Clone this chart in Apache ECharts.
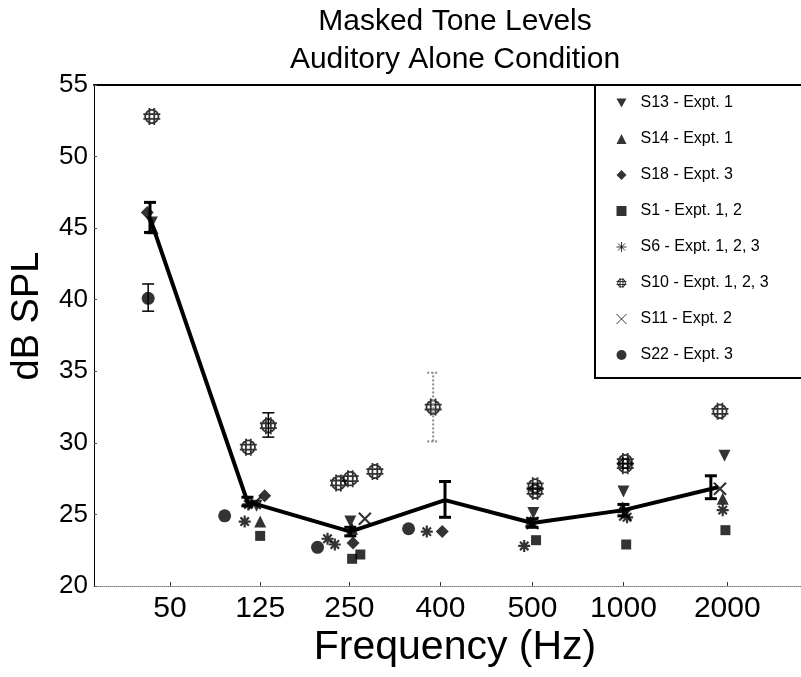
<!DOCTYPE html>
<html><head><meta charset="utf-8">
<script src="https://cdn.jsdelivr.net/npm/echarts@6/dist/echarts.min.js"></script>
<style>html,body{margin:0;padding:0;background:#fff}#c{width:801px;height:677px}</style>
</head><body><div id="c"></div>
<script>
// Frequency axis: tick labels and their positions on the axis scale
const freqLabels = ['50', '125', '250', '400', '500', '1000', '2000'];
const freqTickPos = [1, 1.99, 2.97, 3.97, 4.98, 5.98, 7.12];

// Mean masked tone level (line) and its error bars [x, low, high]
const meanLevel = [[0.78, 45.7], [1.85, 25.9], [2.98, 23.8], [4.02, 26.0], [4.98, 24.4], [5.98, 25.3], [7.02, 26.9]];
const meanErr = [[0.78, 44.7, 46.8], [1.85, 25.6, 26.2], [2.98, 23.5, 24.1], [4.02, 24.8, 27.3], [4.98, 24.1, 24.7], [5.98, 24.9, 25.7], [6.94, 26.1, 27.7]];

// Individual subjects [x, dB SPL]
const s13 = [[0.80, 45.4], [1.95, 25.6], [2.98, 24.5], [4.99, 25.1], [5.98, 26.6], [7.09, 29.1]];
const s14 = [[0.81, 45.0], [1.99, 24.5], [3.00, 24.0], [4.96, 24.5], [5.97, 25.5], [7.07, 26.1]];
const s18 = [[0.75, 46.1], [2.04, 26.3], [3.01, 23.0], [3.99, 23.8]];
const s1 = [[1.99, 23.5], [3.00, 21.9], [3.09, 22.2], [5.02, 23.2], [6.01, 22.9], [7.10, 23.9]];
const s6 = [[1.82, 24.5], [1.86, 25.7], [2.73, 23.3], [2.81, 22.9], [3.82, 23.8], [4.89, 22.8], [6.02, 24.8], [7.07, 25.3]];
const s10 = [[0.80, 52.8], [1.86, 29.7], [2.08, 31.2], [2.85, 27.2], [2.98, 27.5], [3.25, 28.0], [3.89, 32.5], [5.01, 27.0], [5.01, 26.6], [6.00, 28.7], [6.00, 28.4], [7.04, 32.2]];
const s11 = [[1.93, 25.8], [3.14, 24.7], [4.98, 24.4], [6.00, 25.0], [7.04, 26.8]];
const s22 = [[0.76, 40.1], [1.60, 24.9], [2.62, 22.7], [3.62, 24.0]];

// Individual error bars [x, low, high]
const indivErr = [[0.76, 39.2, 41.1], [2.08, 30.4, 32.1]];
const s10WideErr = [[3.89, 30.1, 34.9]];

const yTicks = {min: 20, max: 55, step: 5};

const FONT = 'Liberation Sans, Arial, sans-serif';
const chart = echarts.init(document.getElementById('c'));

const SYM = {
  down: 'path://M0,0 L10,0 L5,9 Z',
  star: 'path://M5,0 L5,10 M0,5 L10,5 M1.5,1.5 L8.5,8.5 M8.5,1.5 L1.5,8.5',
  cross: 'path://M0,5 L14,5 M0,9 L14,9 M5,0 L5,14 M9,0 L9,14 M7,1.5 A5.5,5.5 0 1 1 6.99,1.5',
  x: 'path://M0,0 L10,10 M10,0 L0,10'
};

function scatter(name, data, symbol, size, stroke) {
  return {
    name: name, type: 'scatter', data: data, symbol: symbol, symbolSize: size,
    itemStyle: stroke ? {color: 'rgba(0,0,0,0)', borderColor: '#000', borderWidth: stroke} : {color: '#000'},
    emphasis: {disabled: true}, z: 3
  };
}

function errBars(data, width, color, dashed) {
  return {
    type: 'custom', data: data, z: 4, silent: true,
    renderItem: function (params, api) {
      const x = api.value(0);
      const lo = api.coord([x, api.value(1)]);
      const hi = api.coord([x, api.value(2)]);
      const cap = 6;
      const st = {stroke: color, lineWidth: width, lineDash: dashed ? [2, 2] : null};
      return {type: 'group', children: [
        {type: 'line', shape: {x1: lo[0], y1: lo[1], x2: hi[0], y2: hi[1]}, style: st},
        {type: 'line', shape: {x1: lo[0] - cap, y1: lo[1], x2: lo[0] + cap, y2: lo[1]}, style: st},
        {type: 'line', shape: {x1: hi[0] - cap, y1: hi[1], x2: hi[0] + cap, y2: hi[1]}, style: st}
      ]};
    },
    encode: {x: 0, y: [1, 2]}
  };
}

const xMin = 0.165, xMax = 7.93;
const thin = {borderWidth: 1};

chart.setOption({
  animation: false,
  backgroundColor: '#fff',
  grid: {left: 94, right: 0, top: 85, bottom: 91},
  graphic: [
    {type: 'text', x: 455, y: 22, style: {text: 'Masked Tone Levels', font: '30px ' + FONT, fill: '#000', textAlign: 'center', textVerticalAlign: 'middle'}},
    {type: 'text', x: 455, y: 60, style: {text: 'Auditory Alone Condition', font: '30px ' + FONT, fill: '#000', textAlign: 'center', textVerticalAlign: 'middle'}},
    {type: 'text', x: 455, y: 648, style: {text: 'Frequency (Hz)', font: '41px ' + FONT, fill: '#000', textAlign: 'center', textVerticalAlign: 'middle'}},
    {type: 'text', x: 28, y: 316, rotation: Math.PI / 2, style: {text: 'dB SPL', font: '38px ' + FONT, fill: '#000', textAlign: 'center', textVerticalAlign: 'middle'}},
    {type: 'rect', shape: {x: 595, y: 85, width: 212, height: 293}, style: {fill: '#fff', stroke: '#000', lineWidth: 2}, z: 10}
  ],
  legend: {
    orient: 'vertical', left: 616, top: 95, itemGap: 20, itemWidth: 10, itemHeight: 10,
    padding: 0, z: 20,
    textStyle: {fontFamily: FONT, fontSize: 16, color: '#000', padding: [0, 0, 0, 9]},
    data: [
      {name: 'S13 - Expt. 1'}, {name: 'S14 - Expt. 1'}, {name: 'S18 - Expt. 3'}, {name: 'S1 - Expt. 1, 2'},
      {name: 'S6 - Expt. 1, 2, 3', itemStyle: thin},
      {name: 'S10 - Expt. 1, 2, 3', itemStyle: thin},
      {name: 'S11 - Expt. 2', itemStyle: thin},
      {name: 'S22 - Expt. 3'}
    ],
    selectedMode: false
  },
  xAxis: [{
    type: 'value', min: xMin, max: xMax,
    axisLine: {lineStyle: {color: '#777', width: 1, type: 'dotted'}},
    axisTick: {inside: true, length: 4, lineStyle: {color: '#333'}, customValues: freqTickPos},
    axisLabel: {customValues: freqTickPos, fontFamily: FONT, fontSize: 30, color: '#000', margin: 8,
      formatter: function (v) {
        let best = 0;
        freqTickPos.forEach(function (p, i) { if (Math.abs(p - v) < Math.abs(freqTickPos[best] - v)) best = i; });
        return freqLabels[best];
      }},
    splitLine: {show: false}
  }, {
    type: 'value', position: 'top', min: xMin, max: xMax,
    axisLine: {lineStyle: {color: '#000', width: 2}},
    axisTick: {show: false}, axisLabel: {show: false}, splitLine: {show: false}
  }],
  yAxis: {
    type: 'value', min: yTicks.min, max: yTicks.max, interval: yTicks.step,
    axisLine: {show: true, lineStyle: {color: '#000', width: 1}},
    axisTick: {show: true, inside: true, length: 3, lineStyle: {color: '#555'}},
    axisLabel: {fontFamily: FONT, fontSize: 26, color: '#000', margin: 6},
    splitLine: {show: false}
  },
  series: [
    {type: 'line', data: meanLevel, symbol: 'none', lineStyle: {color: '#000', width: 4}, z: 2, silent: true},
    errBars(meanErr, 3, '#000', false),
    errBars(indivErr, 1.5, '#000', false),
    errBars(s10WideErr, 2, '#888', true),
    scatter('S13 - Expt. 1', s13, SYM.down, 12, 0),
    scatter('S14 - Expt. 1', s14, 'triangle', 12, 0),
    scatter('S18 - Expt. 3', s18, 'diamond', 13, 0),
    scatter('S1 - Expt. 1, 2', s1, 'rect', 10, 0),
    scatter('S6 - Expt. 1, 2, 3', s6, SYM.star, 12, 2.2),
    scatter('S10 - Expt. 1, 2, 3', s10, SYM.cross, 17, 1.8),
    scatter('S11 - Expt. 2', s11, SYM.x, 12, 2.2),
    scatter('S22 - Expt. 3', s22, 'circle', 13, 0)
  ]
});
</script>
</body></html>
